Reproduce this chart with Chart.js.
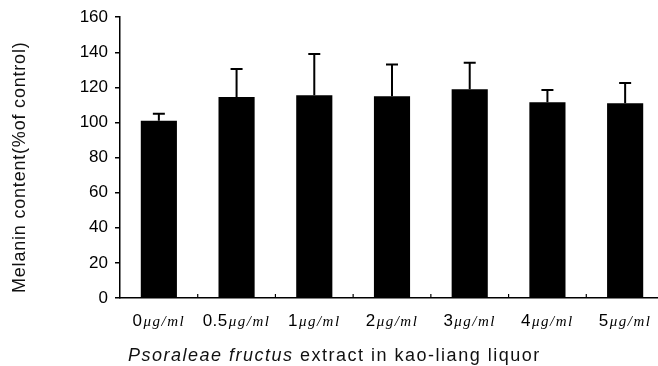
<!DOCTYPE html>
<html>
<head>
<meta charset="utf-8">
<script src="https://cdn.jsdelivr.net/npm/chart.js@4"></script>
<style>
html,body{margin:0;padding:0;background:#fff;overflow:hidden;}
#wrap{width:665px;height:366px;}
</style>
</head>
<body>
<div id="wrap"><canvas id="c" width="665" height="366"></canvas></div>
<script>
const categories = ['0μg/ml', '0.5μg/ml', '1μg/ml', '2μg/ml', '3μg/ml', '4μg/ml', '5μg/ml'];
const melanin = [101, 114.5, 115.5, 115, 119, 111.5, 111];
const sdUpper = [4, 16, 23.5, 18, 15, 7, 11.5];
const yTicks = [0, 20, 40, 60, 80, 100, 120, 140, 160];
const yTitle = 'Melanin content(%of control)';
const xTitleItalic = 'Psoraleae fructus';
const xTitleRest = ' extract in kao-liang liquor';

const textPlugin = {
  id: 'customText',
  afterDatasetsDraw(chart) {
    const ctx = chart.ctx;
    const xs = chart.scales.x, ys = chart.scales.y;
    const meta = chart.getDatasetMeta(0);
    ctx.save();
    // error bars (upper only)
    ctx.strokeStyle = '#000';
    ctx.lineWidth = 2;
    meta.data.forEach((bar, i) => {
      const x = bar.x;
      const y0 = ys.getPixelForValue(melanin[i]);
      const y1 = ys.getPixelForValue(melanin[i] + sdUpper[i]);
      ctx.beginPath();
      ctx.moveTo(x, y0);
      ctx.lineTo(x, y1);
      ctx.moveTo(x - 6, y1);
      ctx.lineTo(x + 6, y1);
      ctx.stroke();
    });
    // small upward ticks at category boundaries
    ctx.lineWidth = 1.2;
    const bottom = chart.chartArea.bottom;
    for (let i = 1; i < categories.length; i++) {
      const xb = (xs.getPixelForValue(i - 1) + xs.getPixelForValue(i)) / 2;
      ctx.beginPath();
      ctx.moveTo(xb, bottom);
      ctx.lineTo(xb, bottom - 4);
      ctx.stroke();
    }
    // x category labels
    ctx.fillStyle = '#000';
    ctx.textBaseline = 'alphabetic';
    ctx.textAlign = 'left';
    const numFont = '17px "Liberation Sans", Arial, sans-serif';
    const unitFont = 'italic 15px "Liberation Serif", "DejaVu Serif", serif';
    categories.forEach((lab, i) => {
      const m = lab.match(/^([0-9.]+)(.*)$/);
      const num = m[1], unit = m[2];
      ctx.letterSpacing = '0.5px';
      ctx.font = numFont;
      const wn = ctx.measureText(num).width;
      ctx.letterSpacing = '1.5px';
      ctx.font = unitFont;
      const wu = ctx.measureText(unit).width;
      const total = wn + 1 + wu;
      const cx = xs.getPixelForValue(i);
      const x = cx - total / 2;
      ctx.letterSpacing = '0.5px';
      ctx.font = numFont;
      ctx.fillText(num, x, 326);
      ctx.letterSpacing = '1.5px';
      ctx.font = unitFont;
      ctx.fillText(unit, x + wn + 1, 326);
    });
    // x title
    ctx.letterSpacing = '1.5px';
    const itFont = 'italic 18px "Liberation Sans", Arial, sans-serif';
    const rFont = '18px "Liberation Sans", Arial, sans-serif';
    ctx.font = itFont;
    const w1 = ctx.measureText(xTitleItalic).width;
    ctx.fillStyle = '#111';
    ctx.fillText(xTitleItalic, 128, 361);
    ctx.font = rFont;
    ctx.fillText(xTitleRest, 128 + w1, 361);
    // y title
    ctx.letterSpacing = '0.8px';
    ctx.translate(25, 293);
    ctx.rotate(-Math.PI / 2);
    ctx.textAlign = 'left';
    ctx.font = '18px "Liberation Sans", Arial, sans-serif';
    ctx.fillStyle = '#111';
    ctx.fillText(yTitle, 0, 0);
    ctx.restore();
  }
};

new Chart(document.getElementById('c'), {
  type: 'bar',
  data: {
    labels: categories,
    datasets: [{
      data: melanin,
      backgroundColor: '#000',
      borderWidth: 0,
      barPercentage: 0.465,
      categoryPercentage: 1.0
    }]
  },
  options: {
    responsive: false,
    animation: false,
    devicePixelRatio: 1,
    layout: { padding: { left: 0, top: 15, right: 1, bottom: 0 } },
    plugins: { legend: { display: false }, tooltip: { enabled: false } },
    scales: {
      x: {
        ticks: { display: false },
        grid: { display: false, drawTicks: false },
        border: { display: true, color: '#000', width: 1.5 },
        afterFit(s) { s.height = 68; }
      },
      y: {
        min: 0, max: 160,
        afterBuildTicks(s) { s.ticks = yTicks.map(v => ({ value: v })); },
        ticks: {
          color: '#000',
          padding: 7,
          font: { family: '"Liberation Sans", Arial, sans-serif', size: 17 }
        },
        grid: { drawOnChartArea: false, drawTicks: true, tickLength: 5, color: '#000', lineWidth: 1.5 },
        border: { display: true, color: '#000', width: 1.5 },
        afterFit(s) { s.width = 120; }
      }
    }
  },
  plugins: [textPlugin]
});
</script>
</body>
</html>
